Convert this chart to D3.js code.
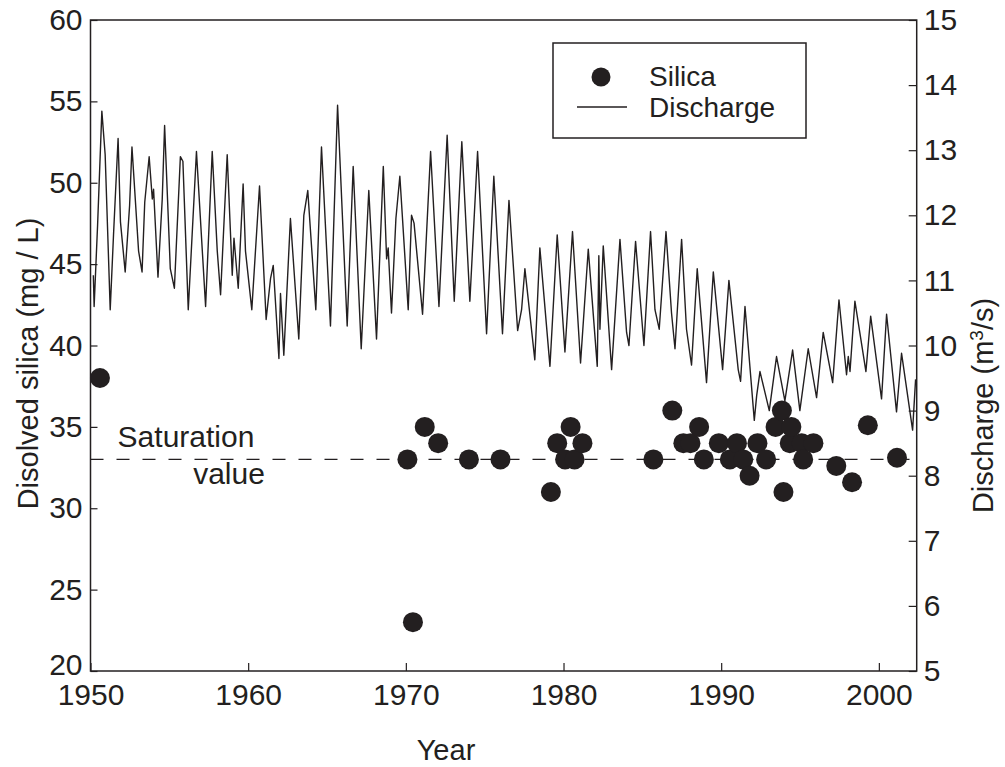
<!DOCTYPE html>
<html>
<head>
<meta charset="utf-8">
<script src="https://cdn.jsdelivr.net/npm/d3@7"></script>
<style>
  body { margin: 0; background: #fff; }
  svg { font-family: "Liberation Sans", Arial, sans-serif; }
</style>
</head>
<body>
<div id="chart"></div>
<script>
// silica samples (year, mg/L)
const silicaYear = [1950.6, 1970.1, 1970.45, 1971.2, 1972.05, 1974.0, 1976.0, 1979.2, 1979.6, 1980.1,
  1980.45, 1980.7, 1981.2, 1985.7, 1986.9, 1987.6, 1988.05, 1988.6, 1988.9, 1989.85,
  1990.55, 1991.0, 1991.4, 1991.8, 1992.3, 1992.85, 1993.45, 1993.85, 1993.95, 1994.35,
  1994.45, 1995.1, 1995.2, 1995.85, 1997.3, 1998.3, 1999.3, 2001.15];
const silicaValue = [38, 33, 23, 35, 34, 33, 33, 31, 34, 33,
  35, 33, 34, 33, 36, 34, 34, 35, 33, 34,
  33, 34, 33, 32, 34, 33, 35, 36, 31, 34,
  35, 34, 33, 34, 32.6, 31.6, 35.1, 33.1];

// discharge, peaks and troughs (year, m3/s)
const dischargeYear = [1950.18, 1950.23, 1950.45, 1950.72, 1950.93, 1951.25, 1951.46, 1951.75, 1951.9, 1952.2,
  1952.48, 1952.63, 1953.05, 1953.27, 1953.44, 1953.72, 1953.92, 1954.0, 1954.28, 1954.55,
  1954.7, 1955.06, 1955.32, 1955.7, 1955.86, 1956.2, 1956.72, 1957.3, 1957.72, 1958.04,
  1958.25, 1958.67, 1958.99, 1959.1, 1959.37, 1959.68, 1959.83, 1960.23, 1960.72, 1961.14,
  1961.42, 1961.59, 1961.95, 1962.05, 1962.26, 1962.68, 1963.21, 1963.53, 1963.78, 1964.29,
  1964.65, 1965.22, 1965.67, 1966.28, 1966.66, 1967.17, 1967.65,
  1968.14, 1968.57, 1968.78, 1968.88, 1969.09, 1969.37, 1969.62, 1970.15, 1970.36, 1970.52,
  1971.06, 1971.57, 1972.1, 1972.62, 1973.07, 1973.55, 1974.06, 1974.55, 1975.12, 1975.58,
  1976.13, 1976.54, 1977.09, 1977.34, 1977.55, 1978.18, 1978.5, 1979.14, 1979.6, 1980.09,
  1980.57, 1981.08, 1981.57, 1982.14, 1982.24, 1982.31, 1982.52, 1983.05, 1983.58, 1984.0,
  1984.15, 1984.57, 1985.1, 1985.52,
  1985.8, 1986.07, 1986.5, 1986.85, 1987.07, 1987.49, 1987.8, 1988.12, 1988.48, 1989.07,
  1989.5, 1990.09, 1990.49, 1991.08, 1991.23, 1991.51, 1992.1, 1992.25, 1992.46, 1993.05,
  1993.51, 1994.04, 1994.53, 1994.99, 1995.52, 1996.05, 1996.47, 1997.07, 1997.47, 1997.95,
  1998.06, 1998.17, 1998.48, 1999.18, 1999.48, 2000.17, 2000.49, 2001.12, 2001.44, 2002.14,
  2002.33];
const dischargeValue = [11.08, 10.6, 11.85, 13.6, 12.93, 10.55, 11.7, 13.18, 11.9, 11.13,
  12.15, 13.05, 11.45, 11.13, 12.2, 12.9, 12.25, 12.4, 11.05, 12.25,
  13.38, 11.18, 10.88, 12.9, 12.83, 10.55, 12.98, 10.6, 12.98, 11.45,
  10.78, 12.93, 11.08, 11.65, 10.88, 12.48, 11.45, 10.55, 12.45, 10.4,
  11.03, 11.23, 9.8, 10.8, 9.85, 11.95, 10.1, 12.0, 12.38, 10.55,
  13.05, 10.3, 13.69, 10.3, 12.75, 9.95, 12.38,
  10.1, 12.75, 11.33, 11.5, 10.5, 11.95, 12.6, 10.55, 12.0, 11.88,
  10.48, 12.98, 10.6, 13.23, 10.68, 13.13, 10.68, 12.98, 10.18, 12.6,
  10.18, 12.23, 10.23, 10.55, 11.18, 9.78, 11.5, 9.68, 11.7, 9.9,
  11.75, 9.73, 11.48, 9.68, 11.38, 10.25, 11.53, 9.63, 11.63, 10.2,
  10.0, 11.6, 10.0, 11.75,
  10.55, 10.25, 11.75, 10.5, 9.95, 11.63, 10.25, 9.7, 11.18, 9.43,
  11.13, 9.63, 11.0, 9.63, 9.45, 10.6, 8.85, 9.23, 9.6, 9.0,
  9.83, 9.15, 9.93, 9.0, 9.95, 9.2, 10.2, 9.43, 10.7, 9.55,
  9.83, 9.6, 10.68, 9.6, 10.45, 9.18, 10.48, 8.98, 9.88, 8.7,
  9.48];

const yearTicks = [1950, 1960, 1970, 1980, 1990, 2000];
const silicaTicks = [20, 25, 30, 35, 40, 45, 50, 55, 60];
const dischargeTicks = [5, 6, 7, 8, 9, 10, 11, 12, 13, 14, 15];
const saturation = 33;

const W = 1005, H = 767;
const ink = "#231f20";
const plotL = 90.5, plotR = 916.7, plotT = 20, plotB = 671;

const svg = d3.select("#chart").append("svg")
  .attr("width", W).attr("height", H);

const x = d3.scaleLinear().domain([1950, 2002.4]).range([plotL, plotR]);
const yL = d3.scaleLinear().domain([20, 60]).range([plotB, plotT]);
const yR = d3.scaleLinear().domain([5, 15]).range([plotB, plotT]);

// saturation line
svg.append("line")
  .attr("x1", plotL).attr("x2", plotR)
  .attr("y1", yL(saturation)).attr("y2", yL(saturation))
  .attr("stroke", ink).attr("stroke-width", 1.2)
  .attr("stroke-dasharray", "13,13");

// discharge trace
const pts = dischargeYear.map((d, i) => [d, dischargeValue[i]]);
svg.append("path")
  .datum(pts)
  .attr("fill", "none")
  .attr("stroke", ink)
  .attr("stroke-width", 1.4)
  .attr("stroke-linejoin", "round")
  .attr("d", d3.line().x(d => x(d[0])).y(d => yR(d[1])));

// silica dots
svg.append("g").selectAll("circle")
  .data(silicaYear.map((d, i) => [d, silicaValue[i]]))
  .join("circle")
  .attr("cx", d => x(d[0]))
  .attr("cy", d => yL(d[1]))
  .attr("r", 10)
  .attr("fill", ink);

// axes
const fs = 30;
function styleAxis(g) {
  g.select(".domain").remove();
  g.selectAll(".tick line").attr("stroke", ink).attr("stroke-width", 1.2);
  g.selectAll(".tick text").attr("fill", ink).style("font-size", fs + "px")
    .style("font-family", "'Liberation Sans', Arial, sans-serif");
}

const gl = svg.append("g").attr("transform", `translate(${plotL},0)`)
  .call(d3.axisLeft(yL).tickValues(silicaTicks).tickSizeInner(-7).tickSizeOuter(0).tickPadding(8))
  .call(styleAxis);
// lowest label sits a touch higher so it clears the year labels
gl.selectAll(".tick text").filter(d => d === 20).attr("dy", "0.12em");

svg.append("g").attr("transform", `translate(${plotR},0)`)
  .call(d3.axisRight(yR).tickValues(dischargeTicks).tickSizeInner(-8).tickSizeOuter(0).tickPadding(7))
  .call(styleAxis);

svg.append("g").attr("transform", `translate(0,${plotB})`)
  .call(d3.axisBottom(x).tickValues(yearTicks).tickFormat(d3.format("d")).tickSizeInner(-8).tickSizeOuter(0).tickPadding(13))
  .call(styleAxis);

// frame
svg.append("rect")
  .attr("x", plotL).attr("y", plotT)
  .attr("width", plotR - plotL).attr("height", plotB - plotT)
  .attr("fill", "none").attr("stroke", ink).attr("stroke-width", 1.5);

// titles
svg.append("text")
  .attr("transform", `translate(28,${(plotT + plotB) / 2 + 18}) rotate(-90)`)
  .attr("text-anchor", "middle").attr("dy", "0.35em")
  .attr("fill", ink).style("font-size", "29px")
  .text("Disolved silica (mg / L)");

const rt = svg.append("text")
  .attr("transform", `translate(983,${(plotT + plotB) / 2 + 60}) rotate(-90)`)
  .attr("text-anchor", "middle").attr("dy", "0.35em")
  .attr("fill", ink).style("font-size", "29px");
rt.append("tspan").text("Discharge (m");
rt.append("tspan").attr("baseline-shift", "super").style("font-size", "19px").text("3");
rt.append("tspan").text("/s)");

svg.append("text")
  .attr("x", 446).attr("y", 760)
  .attr("text-anchor", "middle")
  .attr("fill", ink).style("font-size", "29px")
  .text("Year");

// saturation label
svg.append("text").attr("x", 186).attr("y", 447)
  .attr("text-anchor", "middle").attr("fill", ink).style("font-size", "30px")
  .text("Saturation");
svg.append("text").attr("x", 229).attr("y", 484)
  .attr("text-anchor", "middle").attr("fill", ink).style("font-size", "30px")
  .text("value");

// legend
const lg = svg.append("g");
lg.append("rect").attr("x", 553).attr("y", 43).attr("width", 253).attr("height", 95)
  .attr("fill", "#fff").attr("stroke", ink).attr("stroke-width", 1.5);
lg.append("circle").attr("cx", 601).attr("cy", 77).attr("r", 9.5).attr("fill", ink);
lg.append("line").attr("x1", 577).attr("x2", 627).attr("y1", 107).attr("y2", 107)
  .attr("stroke", ink).attr("stroke-width", 1.4);
lg.append("text").attr("x", 649).attr("y", 86).attr("fill", ink).style("font-size", "28px").text("Silica");
lg.append("text").attr("x", 649).attr("y", 117).attr("fill", ink).style("font-size", "28px").text("Discharge");
</script>
</body>
</html>
